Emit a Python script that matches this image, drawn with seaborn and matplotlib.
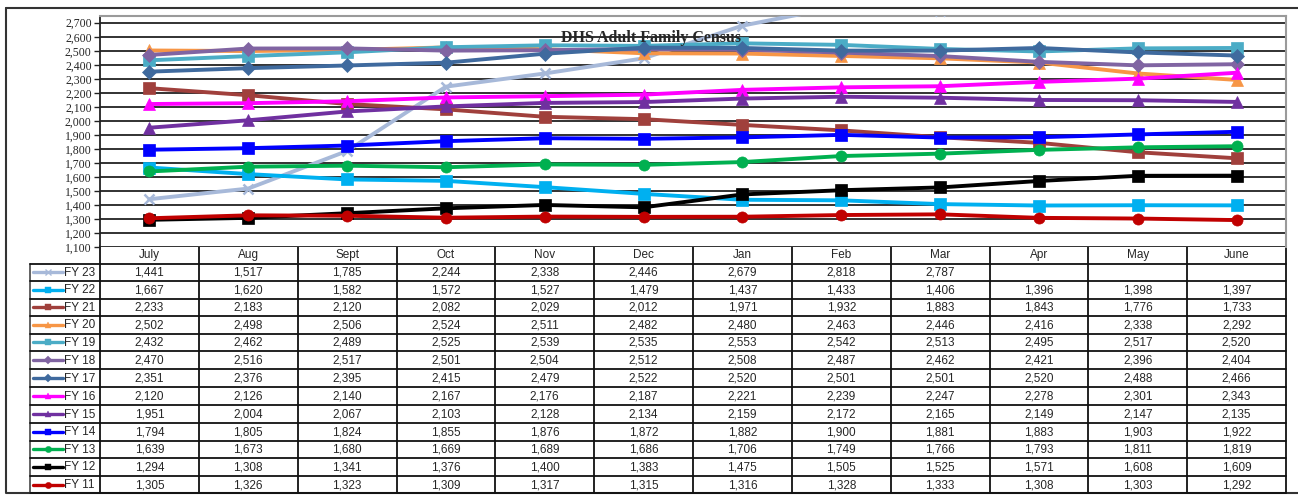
import numpy as np
import pandas as pd
import matplotlib
matplotlib.use("Agg")
import matplotlib.pyplot as plt
import matplotlib.ticker as mtick
import seaborn as sns

# Data
months = ["July", "Aug", "Sept", "Oct", "Nov", "Dec", "Jan", "Feb", "Mar", "Apr", "May", "June"]
series_names = ["FY 23", "FY 22", "FY 21", "FY 20", "FY 19", "FY 18", "FY 17",
                "FY 16", "FY 15", "FY 14", "FY 13", "FY 12", "FY 11"]
fy23 = [1441, 1517, 1785, 2244, 2338, 2446, 2679, 2818, 2787, np.nan, np.nan, np.nan]
fy22 = [1667, 1620, 1582, 1572, 1527, 1479, 1437, 1433, 1406, 1396, 1398, 1397]
fy21 = [2233, 2183, 2120, 2082, 2029, 2012, 1971, 1932, 1883, 1843, 1776, 1733]
fy20 = [2502, 2498, 2506, 2524, 2511, 2482, 2480, 2463, 2446, 2416, 2338, 2292]
fy19 = [2432, 2462, 2489, 2525, 2539, 2535, 2553, 2542, 2513, 2495, 2517, 2520]
fy18 = [2470, 2516, 2517, 2501, 2504, 2512, 2508, 2487, 2462, 2421, 2396, 2404]
fy17 = [2351, 2376, 2395, 2415, 2479, 2522, 2520, 2501, 2501, 2520, 2488, 2466]
fy16 = [2120, 2126, 2140, 2167, 2176, 2187, 2221, 2239, 2247, 2278, 2301, 2343]
fy15 = [1951, 2004, 2067, 2103, 2128, 2134, 2159, 2172, 2165, 2149, 2147, 2135]
fy14 = [1794, 1805, 1824, 1855, 1876, 1872, 1882, 1900, 1881, 1883, 1903, 1922]
fy13 = [1639, 1673, 1680, 1669, 1689, 1686, 1706, 1749, 1766, 1793, 1811, 1819]
fy12 = [1294, 1308, 1341, 1376, 1400, 1383, 1475, 1505, 1525, 1571, 1608, 1609]
fy11 = [1305, 1326, 1323, 1309, 1317, 1315, 1316, 1328, 1333, 1308, 1303, 1292]
series_values = [fy23, fy22, fy21, fy20, fy19, fy18, fy17, fy16, fy15, fy14, fy13, fy12, fy11]

colors = ["#A7B9D9", "#00B0F0", "#A0403C", "#F79646", "#4BACC6", "#8064A2", "#3F6A9E",
          "#FF00FF", "#7030A0", "#0000FF", "#00B050", "#000000", "#C00000"]
markers = ["x", "s", "s", "^", "s", "D", "D", "^", "^", "s", "o", "s", "o"]
marker_sizes = [7.5, 8, 8, 8, 8, 7, 7, 8, 8, 8, 8, 8, 8]

rows = []
for name, vals in zip(series_names, series_values):
    for i, v in enumerate(vals):
        rows.append(dict(series=name, pos=i, month=months[i], census=v))
df = pd.DataFrame(rows)

sns.set_style("white")
plt.rcParams["font.family"] = ["Liberation Sans", "DejaVu Sans"]

W, H = 1298, 496
fig = plt.figure(figsize=(W / 100, H / 100), dpi=100)

# layout in pixels
left, right, top, bottom = 100, 1286, 16, 247
ax = fig.add_axes([left / W, 1 - bottom / H, (right - left) / W, (bottom - top) / H])

for k, (name, col, mk, ms) in enumerate(zip(series_names, colors, markers, marker_sizes)):
    d = df[df["series"] == name].dropna()
    sns.lineplot(data=d, x="pos", y="census", ax=ax, color=col, marker=mk,
                 markersize=ms, markeredgewidth=1.8 if mk == "x" else 0.5,
                 markeredgecolor=col, linewidth=2.8, errorbar=None,
                 legend=False, zorder=3 + k, clip_on=True)

ax.set_xlim(-0.5, len(months) - 0.5)
ax.set_ylim(1100, 2748)
ax.set_yticks(np.arange(1100, 2701, 100))
ax.yaxis.set_major_formatter(mtick.StrMethodFormatter("{x:,.0f}"))
ax.set_xticks([])
ax.set_xlabel("")
ax.set_ylabel("")
ax.grid(axis="y", color="#222222", linewidth=1.3)
ax.set_axisbelow(True)
for lbl in ax.get_yticklabels():
    lbl.set_family(["Liberation Serif", "DejaVu Serif"])
    lbl.set_fontsize(8.5)
ax.tick_params(axis="y", length=4, width=1, color="#222222", pad=2, left=True)
for side in ["top", "right"]:
    ax.spines[side].set_color("#9a9a9a")
    ax.spines[side].set_linewidth(1.5)
ax.spines["left"].set_color("#222222")
ax.spines["left"].set_linewidth(1.3)
ax.spines["bottom"].set_visible(False)

ax.text(0.465, 0.905, "DHS Adult Family Census", transform=ax.transAxes,
        ha="center", va="center", fontsize=11.5, fontweight="bold",
        family=["Liberation Serif", "DejaVu Serif"], zorder=30)

# overlay for data table and frame (pixel coordinates)
tax = fig.add_axes([0, 0, 1, 1], zorder=-1)
tax.set_xlim(0, W)
tax.set_ylim(H, 0)
tax.axis("off")

# outer frame
tax.plot([6, W], [8, 8], color="#333333", lw=1.5)
tax.plot([6, 6, W], [8, 493, 493], color="#333333", lw=1.5)

col_w = (right - left) / len(months)
row_tops = [246, 263.5, 281, 298.5, 316, 333.5, 351, 369, 387, 405, 423, 440.5, 458, 476, 493]
label_left = 30
lc = "#111111"
fs = 8.5

# header row
for j, m in enumerate(months):
    x0 = left + j * col_w
    tax.text(x0 + col_w / 2, (row_tops[0] + row_tops[1]) / 2 + 0.5, m,
             ha="center", va="center", fontsize=fs)
for j in range(len(months) + 1):
    x0 = left + j * col_w
    tax.plot([x0, x0], [row_tops[0], row_tops[-1]], color=lc, lw=1.3)
tax.plot([left, right], [row_tops[0], row_tops[0]], color=lc, lw=1.3)
tax.plot([label_left, label_left], [row_tops[1], row_tops[-1]], color="#555555", lw=1.3)

for i, (name, vals, col, mk) in enumerate(zip(series_names, series_values, colors, markers)):
    y0, y1 = row_tops[i + 1], row_tops[i + 2]
    yc = (y0 + y1) / 2
    tax.plot([label_left, right], [y0, y0], color=lc, lw=1.3)
    # legend key
    tax.plot([33, 63], [yc, yc], color=col, lw=2.4)
    tax.plot([48], [yc], marker=mk, color=col, markersize=4.5 if mk != "x" else 4,
             markeredgewidth=1 if mk == "x" else 0.3)
    tax.text(64.5, yc + 0.5, name, ha="left", va="center", fontsize=fs)
    for j, v in enumerate(vals):
        if not np.isnan(v):
            tax.text(left + j * col_w + col_w / 2, yc + 0.5, f"{int(v):,}",
                     ha="center", va="center", fontsize=fs)
tax.plot([label_left, right], [row_tops[-1], row_tops[-1]], color=lc, lw=1.3)

fig.savefig("out.png", dpi=100)
